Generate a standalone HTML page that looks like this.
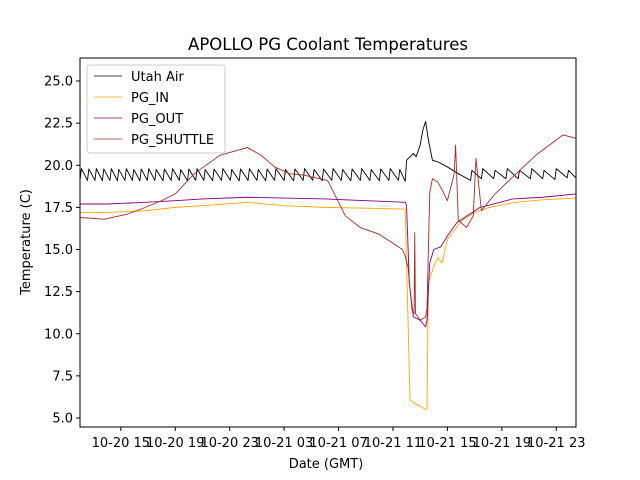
<!DOCTYPE html>
<html><head><meta charset="utf-8"><style>
body{margin:0;background:#fff;}
svg{display:block;font-family:"DejaVu Sans","Liberation Sans",sans-serif;}
</style></head><body>
<svg id="chart" width="640" height="480">
<rect width="640" height="480" fill="#fff"/>
<text x="328" y="50" font-size="16.5" text-anchor="middle">APOLLO PG Coolant Temperatures</text>
<g id="plot"></g>
<rect x="80" y="58" width="496" height="369" fill="none" stroke="#000" stroke-width="1"/>
<g id="axes"></g>
<text x="326" y="468" font-size="13" text-anchor="middle">Date (GMT)</text>
<text transform="translate(30,242) rotate(-90)" font-size="13" text-anchor="middle">Temperature (C)</text>
<g>
<rect x="87" y="65" width="138" height="88" rx="3" fill="#fff" fill-opacity="0.8" stroke="#ccc"/>
<g><line x1="94" y1="76" x2="122" y2="76" stroke="#000" stroke-width="0.8"/><text x="131" y="81" font-size="13">Utah Air</text></g>
<g><line x1="94" y1="97" x2="122" y2="97" stroke="#ffa500" stroke-width="0.8"/><text x="131" y="102" font-size="13">PG_IN</text></g>
<g><line x1="94" y1="118" x2="122" y2="118" stroke="#800080" stroke-width="0.8"/><text x="131" y="123" font-size="13">PG_OUT</text></g>
<g><line x1="94" y1="139" x2="122" y2="139" stroke="#a52a2a" stroke-width="0.8"/><text x="131" y="144" font-size="13">PG_SHUTTLE</text></g>
</g>
</svg>
<script>
// hours since 10-20 00:00 GMT
const xTicks = [15,19,23,27,31,35,39,43,47];
const xTickLabels = ["10-20 15","10-20 19","10-20 23","10-21 03","10-21 07","10-21 11","10-21 15","10-21 19","10-21 23"];
const yTicks = [5,7.5,10,12.5,15,17.5,20,22.5,25];
const yTickLabels = ["5.0","7.5","10.0","12.5","15.0","17.5","20.0","22.5","25.0"];

const airT = [12.00,12.10,12.55,12.65,13.10,13.20,13.65,13.75,14.20,14.30,14.75,14.85,15.30,15.40,15.85,15.95,16.40,16.50,16.95,17.05,17.50,17.60,18.10,18.20,18.70,18.80,19.30,19.40,19.90,20.00,20.50,20.60,21.10,21.20,21.75,21.85,22.40,22.50,23.05,23.15,23.70,23.80,24.35,24.45,25.00,25.10,25.65,25.75,26.30,26.40,27.00,27.10,27.70,27.80,28.40,28.50,29.10,29.20,29.80,29.90,30.50,30.60,31.20,31.30,31.90,32.00,32.60,32.70,33.30,33.40,34.00,34.10,34.70,34.80,35.40,35.50,35.90,36.0,36.5,36.7,37.0,37.2,37.4,37.6,37.9,38.3,39.0,39.8,40.7,40.8,41.5,41.6,42.4,42.5,43.3,43.4,44.2,44.3,45.1,45.2,46.0,46.1,46.9,47.0,47.8,47.9,48.45];
const airV = [19.10,19.80,19.10,19.78,19.10,19.80,19.08,19.78,19.10,19.80,19.08,19.75,19.10,19.80,19.10,19.75,19.08,19.78,19.10,19.80,19.10,19.75,19.08,19.78,19.10,19.80,19.10,19.75,19.08,19.78,19.10,19.80,19.10,19.75,19.08,19.78,19.10,19.80,19.10,19.75,19.08,19.78,19.10,19.80,19.10,19.75,19.08,19.78,19.10,19.80,19.10,19.75,19.08,19.78,19.10,19.80,19.10,19.75,19.08,19.78,19.10,19.80,19.10,19.75,19.08,19.78,19.10,19.80,19.10,19.75,19.08,19.78,19.10,19.80,19.10,19.75,19.05,20.3,20.7,20.5,21.2,22.1,22.6,21.5,20.3,20.2,19.9,19.5,19.1,19.7,19.2,19.8,19.2,19.7,19.2,19.8,19.2,19.7,19.2,19.8,19.2,19.7,19.15,19.8,19.25,19.7,19.25];

const inT = [12.0,14.0,16.8,19.0,21.0,24.3,27.0,30.0,33.0,35.9,36.0,36.1,36.25,36.5,37.0,37.2,37.4,37.5,37.6,38.0,38.3,38.6,39.0,40.1,41.0,42.1,44.0,46.0,48.45];
const inV = [17.2,17.2,17.3,17.5,17.6,17.8,17.6,17.5,17.45,17.4,14.0,11.0,6.1,5.9,5.7,5.6,5.5,5.6,13.0,14.0,14.5,14.2,15.6,16.75,17.2,17.5,17.8,17.95,18.05];

const outT = [12.0,14.0,16.8,19.0,21.0,24.3,27.0,30.0,33.0,35.9,36.0,36.2,36.5,37.0,37.4,37.5,37.7,38.0,38.5,39.0,39.7,41.4,43.8,46.0,48.45];
const outV = [17.7,17.7,17.8,17.9,18.0,18.1,18.05,18.0,17.9,17.8,17.6,13.0,11.0,10.8,10.4,10.8,14.2,15.0,15.15,15.8,16.6,17.5,18.0,18.1,18.3];

const shT = [12.0,13.8,15.5,16.8,18.0,19.0,20.4,22.3,24.3,25.3,26.3,27.4,28.5,30.2,31.5,32.6,34.0,35.7,35.9,36.1,36.4,36.55,36.6,36.65,37.0,37.4,37.5,37.7,37.9,38.3,38.5,39.0,39.5,39.6,39.8,40.4,40.9,41.1,41.5,42.5,43.8,45.5,47.0,47.5,48.45];
const shV = [16.9,16.8,17.1,17.5,17.9,18.3,19.5,20.6,21.05,20.6,19.9,19.5,19.4,19.1,17.0,16.3,15.9,15.0,14.6,14.0,11.4,11.2,16.0,11.2,10.8,11.0,11.5,18.35,19.2,19.0,18.7,17.9,19.5,21.2,16.75,16.3,17.0,20.4,17.3,18.3,19.3,20.6,21.5,21.8,21.6];

const X0=80,X1=576,Y0=58,Y1=427,HMIN=12.0,HMAX=48.45;
const xs = h => X0 + (h-HMIN)/(HMAX-HMIN)*(X1-X0);
const ys = v => 81 + (25-v)*16.85;
const NS="http://www.w3.org/2000/svg";
const plot=document.getElementById('plot'), axes=document.getElementById('axes');

function series(t,v,color,name){
  const p=document.createElementNS(NS,'path');
  let d='';
  for(let i=0;i<t.length;i++) d+=(i?'L':'M')+xs(t[i]).toFixed(2)+' '+ys(v[i]).toFixed(2);
  p.setAttribute('d',d);p.setAttribute('fill','none');
  p.setAttribute('stroke',color);p.setAttribute('stroke-width','0.9');
  p.setAttribute('stroke-linejoin','round');
  
  
  plot.appendChild(p);
}
series(airT,airV,'#000','series-utah-air');
series(inT,inV,'#ffa500','series-pg-in');
series(outT,outV,'#800080','series-pg-out');
series(shT,shV,'#a52a2a','series-pg-shuttle');

xTicks.forEach((h,i)=>{
  const x=xs(h);
  const l=document.createElementNS(NS,'line');
  l.setAttribute('x1',x);l.setAttribute('x2',x);l.setAttribute('y1',Y1);l.setAttribute('y2',Y1+4);
  l.setAttribute('stroke','#000');
  
  
  axes.appendChild(l);
  const t=document.createElementNS(NS,'text');
  t.setAttribute('x',x);t.setAttribute('y',Y1+20);t.setAttribute('font-size','13');
  t.setAttribute('text-anchor','middle');t.textContent=xTickLabels[i];
  
  
  axes.appendChild(t);
});
yTicks.forEach((v,i)=>{
  const y=ys(v);
  const l=document.createElementNS(NS,'line');
  l.setAttribute('x1',X0-4);l.setAttribute('x2',X0);l.setAttribute('y1',y);l.setAttribute('y2',y);
  l.setAttribute('stroke','#000');
  
  
  axes.appendChild(l);
  const t=document.createElementNS(NS,'text');
  t.setAttribute('x',X0-7);t.setAttribute('y',y+4.5);t.setAttribute('font-size','13');
  t.setAttribute('text-anchor','end');t.textContent=yTickLabels[i];
  
  
  axes.appendChild(t);
});
</script>
</body></html>
